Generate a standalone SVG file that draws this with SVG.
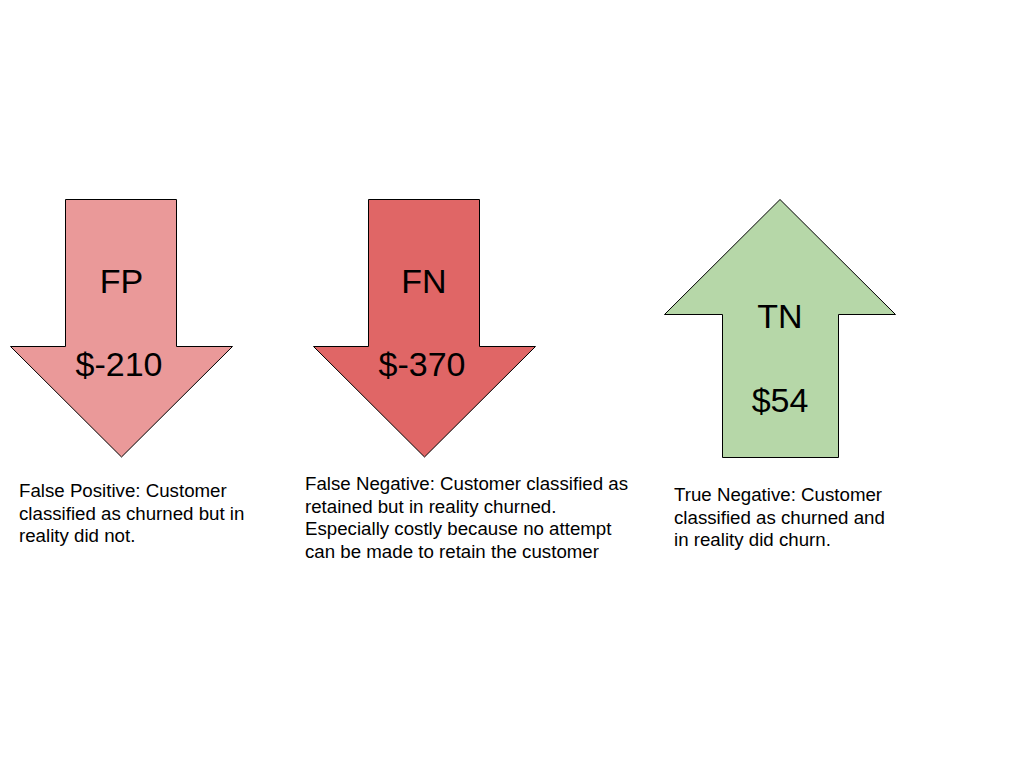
<svg xmlns="http://www.w3.org/2000/svg" width="1024" height="768" viewBox="0 0 1024 768">
<style>
.arrow{stroke:#000;stroke-width:1;stroke-linejoin:miter}
.big{font-family:"Liberation Sans",Arial,sans-serif;font-size:34px;fill:#000;text-anchor:middle}
.body{font-family:"Liberation Sans",Arial,sans-serif;font-size:18.7px;fill:#000}
</style>
<rect width="1024" height="768" fill="#fff"/>
<g id="fp">
<polygon class="arrow" fill="#ea9999" points="65.5,199.5 176.5,199.5 176.5,346.5 232.5,346.5 121.5,457 10.5,346.5 65.5,346.5"/>
<text class="big" x="121.5" y="292.5">FP</text>
<text class="big" x="119" y="375.5">$-210</text>
</g>
<g id="fn">
<polygon class="arrow" fill="#e06666" points="368.5,199.5 479.5,199.5 479.5,346.5 535.5,346.5 424.5,457 313.5,346.5 368.5,346.5"/>
<text class="big" x="424" y="292.5">FN</text>
<text class="big" x="422" y="375.5">$-370</text>
</g>
<g id="tn">
<polygon class="arrow" fill="#b6d7a8" points="780,199.5 895.5,314.5 838.5,314.5 838.5,457.5 722.5,457.5 722.5,314.5 664.5,314.5"/>
<text class="big" x="780" y="327.5">TN</text>
<text class="big" x="780" y="412">$54</text>
</g>
<g id="fp-text">
<text class="body" x="19" y="497">False Positive: Customer</text>
<text class="body" x="19" y="519.5">classified as churned but in</text>
<text class="body" x="19" y="542">reality did not.</text>
</g>
<g id="fn-text">
<text class="body" x="305" y="490">False Negative: Customer classified as</text>
<text class="body" x="305" y="512.5">retained but in reality churned.</text>
<text class="body" x="305" y="535">Especially costly because no attempt</text>
<text class="body" x="305" y="557.5">can be made to retain the customer</text>
</g>
<g id="tn-text">
<text class="body" x="674" y="501">True Negative: Customer</text>
<text class="body" x="674" y="523.5">classified as churned and</text>
<text class="body" x="674" y="546">in reality did churn.</text>
</g>
<g id="connectors"/>
</svg>
